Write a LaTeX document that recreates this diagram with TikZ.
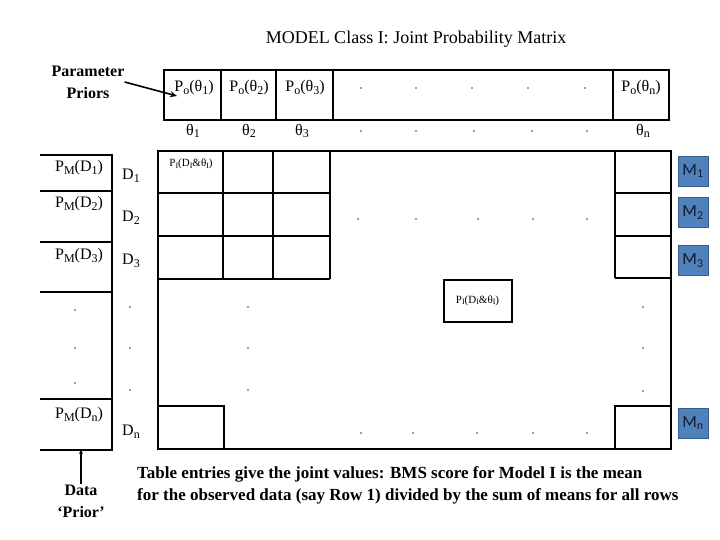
\documentclass[tikz,border=0pt]{standalone}
\usepackage{fontspec}
\setmainfont{Liberation Serif}
\newfontfamily\mfont{Carlito}
\usepackage{xcolor}
\usepackage{tikz}
\usetikzlibrary{arrows.meta}

\definecolor{mblue}{RGB}{79,129,189}
\definecolor{mline}{RGB}{56,93,138}
\definecolor{mtext}{RGB}{20,25,45}
\newcommand{\lsub}[1]{\raisebox{-0.35ex}{\fontsize{12}{12}\selectfont #1}}
\newcommand{\ssub}[1]{\raisebox{-0.3ex}{\fontsize{8}{8}\selectfont #1}}

\tikzset{
  cellline/.style={line width=2.3pt},
  lbl/.style={font=\fontsize{16}{18}\selectfont,inner sep=1pt},
  smalllbl/.style={font=\fontsize{11}{12}\selectfont,inner sep=1pt},
  bigtxt/.style={font=\fontsize{18}{22}\selectfont,inner sep=0pt},
  boldtxt/.style={font=\bfseries\fontsize{16}{22}\selectfont,inner sep=0pt,align=center},
  mbox/.style={draw=mline,line width=0.8pt,fill=mblue,minimum size=30pt,inner sep=0pt,text=mtext,font=\mfont\fontsize{17}{18}\selectfont},
  arr/.style={line width=1.6pt,-{Stealth[length=7pt,width=6pt]}},
  dotfill/.style={fill=black!75}
}

\begin{document}
\begin{tikzpicture}[x=1pt,y=-1pt]
\useasboundingbox (0,0) rectangle (720,540);

\node[bigtxt] (title) at (416,39) {MODEL Class I: Joint Probability Matrix};

% prior row
\draw[cellline] (164,70) rectangle (669,120);
\draw[cellline] (221,70)--(221,120) (276,70)--(276,120) (333,70)--(333,120) (613,70)--(613,120);
\node[lbl] (po1) at (194,88) {P\lsub{o}(θ\lsub{1})};
\node[lbl] (po2) at (249,88) {P\lsub{o}(θ\lsub{2})};
\node[lbl] (po3) at (305,88) {P\lsub{o}(θ\lsub{3})};
\node[lbl] (pon) at (641,88) {P\lsub{o}(θ\lsub{n})};
\node[lbl] (t1) at (193,131) {θ\lsub{1}};
\node[lbl] (t2) at (249,131) {θ\lsub{2}};
\node[lbl] (t3) at (302,131) {θ\lsub{3}};
\node[lbl] (tn) at (643,131) {θ\lsub{n}};

\node[boldtxt] (pp) at (88,82) {Parameter\\Priors};
\coordinate (ppend) at (177,96);
\draw[arr] (pp.east)--(ppend);

% joint matrix
\draw[cellline] (158,151) rectangle (671,449);
\draw[cellline] (158,193)--(330,193) (158,236)--(330,236) (158,279)--(330,279);
\draw[cellline] (223,151)--(223,279) (273,151)--(273,279) (330,151)--(330,279);
\draw[cellline] (615,151)--(615,278) (615,193)--(671,193) (615,236)--(671,236) (615,278)--(671,278);
\draw[cellline] (158,406)--(224,406)--(224,449);
\draw[cellline] (615,449)--(615,406)--(671,406);
\node[smalllbl] (pcorner) at (191,164) {P\ssub{I}(D\ssub{I}\&θ\ssub{I})};
\node[smalllbl,draw,line width=2pt,minimum width=68pt,minimum height=42pt] (pcell) at (477.5,300.5) {P\ssub{I}(D\ssub{I}\&θ\ssub{I})};

% data prior column
\draw[cellline] (40,155)--(112,155)--(112,450)--(40,450);
\draw[cellline] (40,191)--(112,191) (40,242)--(112,242) (40,292)--(112,292) (40,399)--(112,399);
\node[lbl] (pm1) at (79,168) {P\lsub{M}(D\lsub{1})};
\node[lbl] (pm2) at (79,204) {P\lsub{M}(D\lsub{2})};
\node[lbl] (pm3) at (79,256) {P\lsub{M}(D\lsub{3})};
\node[lbl] (pmn) at (79,415) {P\lsub{M}(D\lsub{n})};
\node[lbl] (d1) at (131,176) {D\lsub{1}};
\node[lbl] (d2) at (131,218) {D\lsub{2}};
\node[lbl] (d3) at (131,261) {D\lsub{3}};
\node[lbl] (dn) at (131,432) {D\lsub{n}};

\node[boldtxt] (dp) at (81,501) {Data\\‘Prior’};
\coordinate (dpend) at (81,450);
\draw[line width=1.6pt,-{Stealth[length=4pt,width=4pt]}] (dp.north)--(dpend);

% model boxes
\node[mbox] (m1) at (693,171) {M\textsubscript{1}};
\node[mbox] (m2) at (693,212.5) {M\textsubscript{2}};
\node[mbox] (m3) at (693,260.5) {M\textsubscript{3}};
\node[mbox] (mn) at (693,423) {M\textsubscript{n}};

% dots
\fill[dotfill] (361,88) circle (0.9) (416,88) circle (0.9) (472,88) circle (0.9) (528,88) circle (0.9) (585,88) circle (0.9);
\fill[dotfill] (361,131) circle (0.9) (416,131) circle (0.9) (474,131) circle (0.9) (532,131) circle (0.9) (587,131) circle (0.9);
\fill[dotfill] (358,219) circle (0.9) (416,219) circle (0.9) (478,219) circle (0.9) (533,219) circle (0.9) (587,219) circle (0.9);
\fill[dotfill] (361,433) circle (0.9) (413,433) circle (0.9) (477,433) circle (0.9) (533,433) circle (0.9) (587,433) circle (0.9);
\fill[dotfill] (643,307) circle (0.9) (643,348) circle (0.9) (643,391) circle (0.9);
\fill[dotfill] (248,307) circle (0.9) (248,348) circle (0.9) (248,390) circle (0.9);
\fill[dotfill] (130,307) circle (0.9) (130,348) circle (0.9) (130,390) circle (0.9);
\fill[dotfill] (75,310) circle (0.9) (75,348) circle (0.9) (75,383) circle (0.9);

\node[bigtxt,align=left,anchor=north west,font=\bfseries\fontsize{17}{22}\selectfont] (note) at (137,466) {Table entries give the joint values: BMS score for Model I is the mean\\for the observed data (say Row 1) divided by the sum of means for all rows};
\end{tikzpicture}
\end{document}
